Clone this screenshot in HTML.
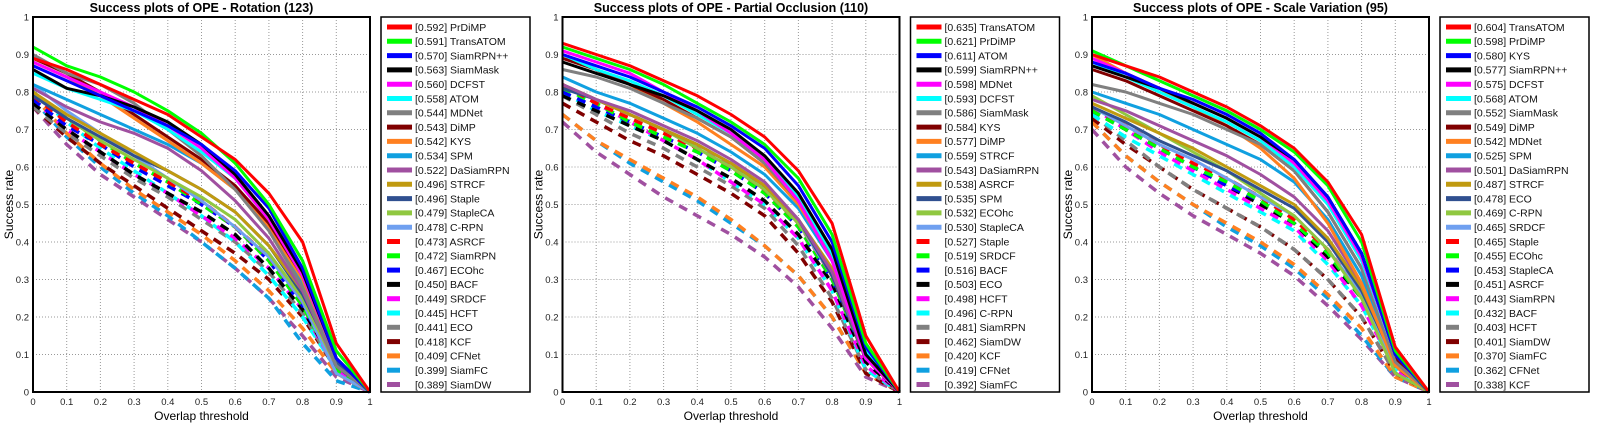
<!DOCTYPE html>
<html><head><meta charset="utf-8">
<style>
body{margin:0;background:#fff;width:1609px;height:439px;overflow:hidden}
svg{display:block;font-family:"Liberation Sans",Arial,sans-serif}
</style></head>
<body>
<svg id="chart" width="1609" height="439" viewBox="0 0 1609 439" xmlns="http://www.w3.org/2000/svg"></svg>
<script>
const thresholds=[0,0.1,0.2,0.3,0.4,0.5,0.6,0.7,0.8,0.9,1];
const xTicks=["0","0.1","0.2","0.3","0.4","0.5","0.6","0.7","0.8","0.9","1"];
const yTicks=["0","0.1","0.2","0.3","0.4","0.5","0.6","0.7","0.8","0.9","1"];
const titles=["Success plots of OPE - Rotation (123)","Success plots of OPE - Partial Occlusion (110)","Success plots of OPE - Scale Variation (95)"];
const colors=["#ff0000","#00ff00","#0000ff","#000000","#ff00ff","#00ffff","#808080","#800000","#ff8020","#10a0e0","#a050a0","#c09a10","#305090","#90c840","#70a0f0"];
const names1=["PrDiMP","TransATOM","SiamRPN++","SiamMask","DCFST","ATOM","MDNet","DiMP","KYS","SPM","DaSiamRPN","STRCF","Staple","StapleCA","C-RPN","ASRCF","SiamRPN","ECOhc","BACF","SRDCF","HCFT","ECO","KCF","CFNet","SiamFC","SiamDW"];
const scores1=[".592",".591",".570",".563",".560",".558",".544",".543",".542",".534",".522",".496",".496",".479",".478",".473",".472",".467",".450",".449",".445",".441",".418",".409",".399",".389"];
const series1=[
[.89,.86,.82,.78,.74,.68,.62,.53,.40,.13,0],[.92,.87,.84,.80,.75,.69,.61,.50,.35,.11,0],[.87,.83,.79,.75,.71,.66,.59,.49,.33,.09,0],[.86,.81,.79,.76,.72,.66,.58,.47,.32,.09,0],[.88,.84,.80,.76,.71,.65,.57,.46,.31,.09,0],[.85,.81,.78,.75,.70,.64,.57,.46,.31,.09,0],[.90,.85,.82,.77,.70,.63,.54,.43,.28,.07,0],[.89,.85,.80,.74,.68,.62,.55,.45,.31,.09,0],[.88,.84,.79,.73,.67,.61,.54,.44,.30,.09,0],[.82,.78,.74,.70,.66,.61,.54,.44,.29,.07,0],[.81,.76,.72,.69,.65,.59,.51,.41,.27,.07,0],[.80,.74,.69,.64,.59,.54,.48,.39,.27,.09,0],[.79,.73,.68,.63,.59,.54,.48,.39,.26,.08,0],[.80,.73,.67,.62,.57,.52,.46,.37,.25,.07,0],[.82,.75,.69,.63,.57,.51,.44,.36,.24,.05,0],
[.79,.72,.66,.61,.56,.51,.44,.36,.24,.07,0],[.80,.73,.67,.61,.56,.50,.44,.35,.23,.06,0],[.78,.71,.66,.60,.55,.50,.44,.35,.23,.07,0],[.77,.70,.64,.58,.53,.48,.42,.33,.22,.07,0],[.78,.70,.64,.58,.53,.47,.41,.33,.22,.06,0],[.80,.72,.65,.59,.53,.47,.40,.31,.20,.06,0],[.76,.69,.63,.57,.52,.46,.40,.32,.21,.06,0],[.76,.68,.61,.55,.49,.43,.37,.30,.20,.06,0],[.79,.69,.61,.54,.48,.42,.35,.27,.17,.05,0],[.78,.68,.60,.53,.47,.40,.33,.25,.13,.03,0],[.76,.66,.58,.52,.46,.40,.33,.25,.15,.04,0]];
const names2=["TransATOM","PrDiMP","ATOM","SiamRPN++","MDNet","DCFST","SiamMask","KYS","DiMP","STRCF","DaSiamRPN","ASRCF","SPM","ECOhc","StapleCA","Staple","SRDCF","BACF","ECO","HCFT","C-RPN","SiamRPN","SiamDW","KCF","CFNet","SiamFC"];
const scores2=[".635",".621",".611",".599",".598",".593",".586",".584",".577",".559",".543",".538",".535",".532",".530",".527",".519",".516",".503",".498",".496",".481",".462",".420",".419",".392"];
const series2=[
[.93,.90,.87,.83,.79,.74,.68,.59,.45,.15,0],[.92,.89,.86,.82,.77,.72,.66,.57,.42,.13,0],[.90,.87,.84,.80,.76,.71,.65,.55,.40,.12,0],[.88,.85,.82,.79,.75,.70,.63,.53,.38,.10,0],[.91,.88,.85,.80,.75,.69,.62,.51,.35,.09,0],[.90,.86,.83,.79,.74,.69,.62,.52,.37,.11,0],[.86,.84,.81,.77,.73,.68,.61,.51,.36,.10,0],[.89,.86,.82,.78,.73,.68,.61,.51,.36,.11,0],[.90,.86,.82,.77,.72,.66,.60,.50,.36,.11,0],[.84,.80,.77,.73,.69,.64,.58,.49,.35,.11,0],[.82,.78,.75,.71,.67,.62,.56,.46,.32,.09,0],[.82,.78,.74,.70,.66,.61,.55,.46,.33,.10,0],[.81,.78,.74,.70,.66,.61,.55,.46,.31,.09,0],[.82,.78,.74,.70,.65,.60,.54,.45,.32,.10,0],[.82,.78,.74,.70,.65,.60,.54,.45,.31,.09,0],
[.82,.77,.73,.69,.65,.60,.54,.45,.31,.09,0],[.81,.77,.72,.68,.64,.59,.53,.44,.30,.09,0],[.80,.76,.72,.68,.64,.59,.53,.44,.30,.09,0],[.79,.75,.71,.67,.62,.57,.51,.42,.29,.08,0],[.82,.77,.72,.67,.62,.56,.50,.41,.27,.07,0],[.80,.75,.71,.67,.62,.56,.50,.41,.27,.06,0],[.79,.74,.69,.65,.60,.55,.49,.39,.25,.06,0],[.77,.72,.67,.63,.58,.53,.47,.37,.24,.05,0],[.74,.67,.62,.57,.52,.46,.39,.31,.20,.05,0],[.74,.67,.61,.56,.51,.45,.39,.31,.20,.05,0],[.72,.64,.58,.52,.47,.42,.36,.28,.17,.04,0]];
const names3=["TransATOM","PrDiMP","KYS","SiamRPN++","DCFST","ATOM","SiamMask","DiMP","MDNet","SPM","DaSiamRPN","STRCF","ECO","C-RPN","SRDCF","Staple","ECOhc","StapleCA","ASRCF","SiamRPN","BACF","HCFT","SiamDW","SiamFC","CFNet","KCF"];
const scores3=[".604",".598",".580",".577",".575",".568",".552",".549",".542",".525",".501",".487",".478",".469",".465",".465",".455",".453",".451",".443",".432",".403",".401",".370",".362",".338"];
const series3=[
[.90,.87,.84,.80,.76,.71,.65,.56,.42,.12,0],[.91,.87,.83,.79,.75,.70,.64,.55,.40,.11,0],[.88,.85,.81,.78,.74,.69,.62,.52,.37,.10,0],[.87,.84,.81,.77,.73,.68,.62,.52,.37,.10,0],[.89,.85,.81,.77,.73,.68,.61,.51,.36,.10,0],[.88,.84,.80,.76,.72,.67,.60,.50,.35,.10,0],[.82,.80,.77,.74,.70,.66,.59,.48,.33,.08,0],[.86,.83,.79,.75,.71,.66,.59,.48,.33,.09,0],[.90,.85,.81,.76,.71,.65,.57,.45,.29,.07,0],[.80,.77,.74,.70,.66,.62,.56,.46,.31,.08,0],[.78,.75,.71,.67,.63,.58,.52,.43,.29,.08,0],[.77,.73,.69,.65,.60,.55,.50,.41,.28,.08,0],[.76,.72,.67,.63,.59,.54,.49,.40,.27,.08,0],[.79,.74,.69,.64,.59,.53,.47,.38,.25,.05,0],[.76,.71,.66,.62,.57,.52,.47,.38,.26,.07,0],
[.76,.71,.66,.61,.57,.52,.46,.38,.26,.07,0],[.75,.70,.65,.60,.56,.51,.45,.37,.25,.07,0],[.75,.70,.65,.60,.55,.51,.45,.37,.25,.07,0],[.75,.70,.65,.60,.55,.50,.45,.36,.25,.07,0],[.76,.70,.64,.59,.54,.49,.44,.35,.23,.06,0],[.74,.68,.63,.58,.53,.48,.43,.34,.23,.06,0],[.74,.67,.60,.54,.49,.44,.38,.30,.20,.05,0],[.73,.66,.60,.54,.49,.44,.38,.30,.20,.05,0],[.72,.63,.56,.50,.45,.40,.34,.26,.17,.04,0],[.72,.63,.56,.50,.44,.39,.33,.25,.15,.04,0],[.70,.60,.53,.47,.42,.37,.31,.23,.14,.04,0]];
const panels=[[names1,scores1,series1],[names2,scores2,series2],[names3,scores3,series3]];

const NS="http://www.w3.org/2000/svg";
const svg=document.getElementById('chart');
function mk(tag,attrs,parent,text){const e=document.createElementNS(NS,tag);for(const k in attrs)e.setAttribute(k,attrs[k]);if(text!==undefined)e.textContent=text;parent.appendChild(e);return e;}
const PX0=33,PW=337,PY0=17,PH=375,POFF=529.5;
panels.forEach((p,pi)=>{
  const [names,scores,series]=p;
  const ox=PX0+pi*POFF;
  const xs=v=>ox+v*PW, ys=v=>PY0+PH-v*PH;
  const g=mk('g',{},svg);
  
  
  const t=mk('text',{x:ox+PW/2,y:12,'text-anchor':'middle','font-size':'12.5','font-weight':'bold'},g,titles[pi]);
  
  
  // grid
  for(let i=1;i<10;i++){
    mk('line',{x1:xs(i/10),x2:xs(i/10),y1:PY0,y2:PY0+PH,stroke:'#999','stroke-width':1,'stroke-dasharray':'1,2'},g);
    mk('line',{x1:ox,x2:ox+PW,y1:ys(i/10),y2:ys(i/10),stroke:'#999','stroke-width':1,'stroke-dasharray':'1,2'},g);
  }
  xTicks.forEach((lb,i)=>{const e=mk('text',{x:xs(i/10),y:PY0+PH+13,'text-anchor':'middle','font-size':'9.5',fill:'#222'},g,lb);
    });
  yTicks.forEach((lb,i)=>{const e=mk('text',{x:ox-4,y:ys(i/10)+3.5,'text-anchor':'end','font-size':'9.5',fill:'#222'},g,lb);
    });
  const xl=mk('text',{x:ox+PW/2,y:420,'text-anchor':'middle','font-size':'12'},g,'Overlap threshold');
  
  const yl=mk('text',{x:0,y:0,'text-anchor':'middle','font-size':'12',transform:`translate(${ox-20},${PY0+PH/2}) rotate(-90)`},g,'Success rate');
  
  // curves (reverse order so top entries on top)
  for(let k=series.length-1;k>=0;k--){
    const d=series[k].map((v,i)=>(i?'L':'M')+xs(thresholds[i]).toFixed(1)+','+ys(v).toFixed(1)).join(' ');
    const dashed=k>=15;
    const c=mk('path',{d:d,fill:'none',stroke:colors[k%15],'stroke-width':dashed?3.5:3,'stroke-linejoin':'round','stroke-dasharray':dashed?'9,7':'none'},g);
    
    
  }
  mk('rect',{x:ox,y:PY0,width:PW,height:PH,fill:'none',stroke:'#000','stroke-width':2},g);
  // legend
  const lx=ox+348,lw=149;
  const lg=mk('g',{},g);
  
  
  mk('rect',{x:lx,y:PY0,width:lw,height:PH,fill:'#fff',stroke:'#000','stroke-width':1.5},lg);
  names.forEach((n,k)=>{
    const yy=PY0+10+k*14.3;
    const dashed=k>=15;
    const en=mk('g',{},lg);
    
    
    if(dashed) mk('line',{x1:lx+6,x2:lx+19,y1:yy,y2:yy,stroke:colors[k%15],'stroke-width':5},en);
    else mk('line',{x1:lx+6,x2:lx+31,y1:yy,y2:yy,stroke:colors[k%15],'stroke-width':5},en);
    mk('text',{x:lx+34,y:yy+3.8,'font-size':'10.5',fill:'#111'},en,'[0'+scores[k]+'] '+n);
  });
});
</script>
</body></html>
